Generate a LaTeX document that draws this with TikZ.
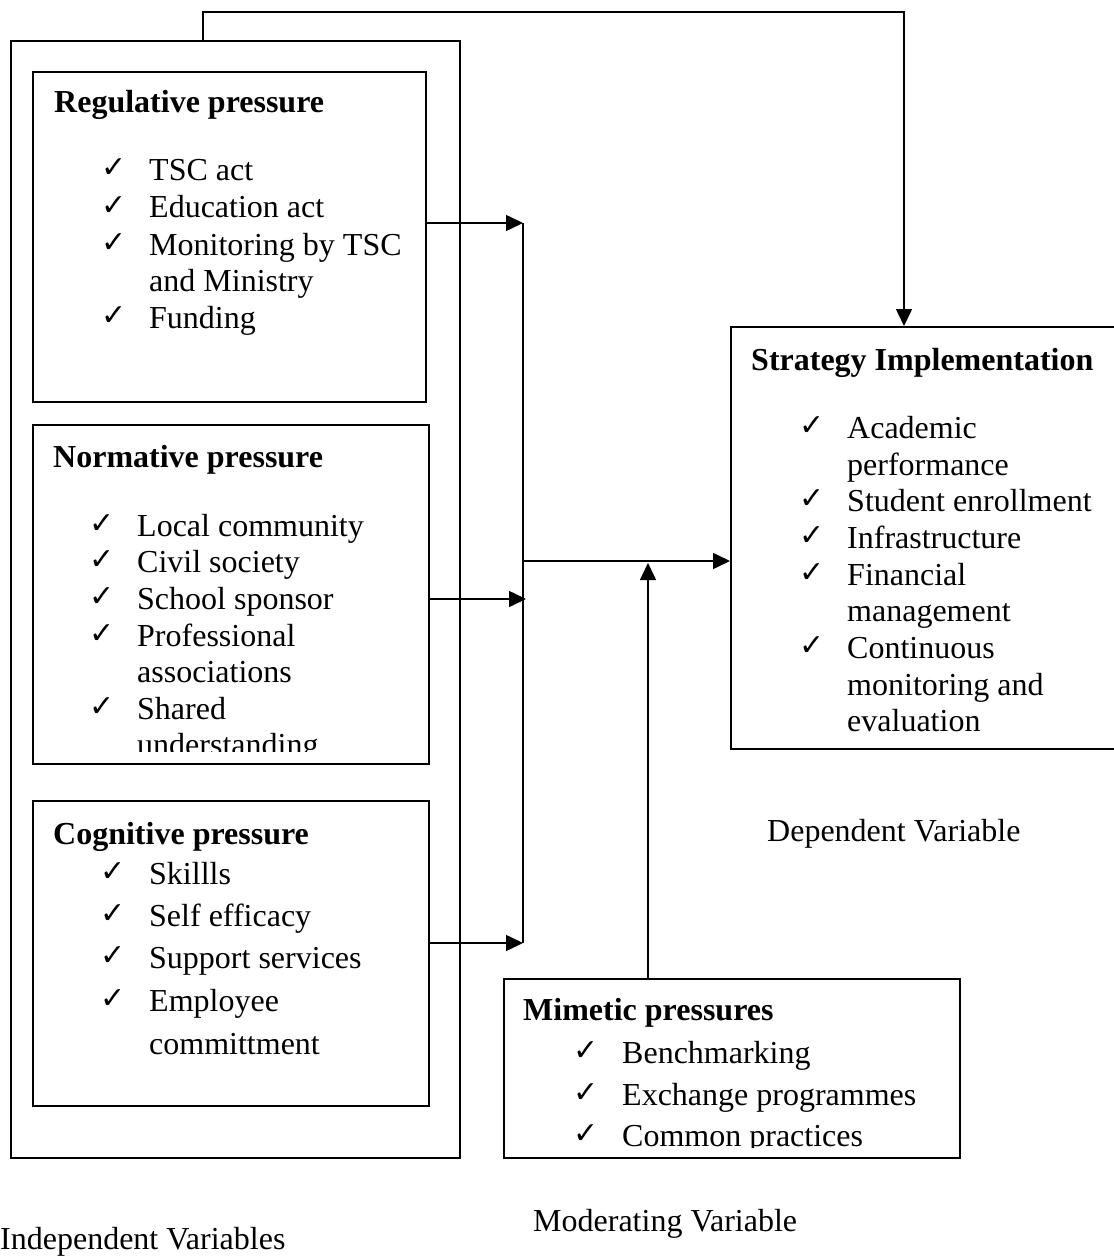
\documentclass[tikz,border=0pt]{standalone}
\usepackage{fontspec}
\setmainfont{Liberation Serif}
\newfontfamily\chkfont{DejaVu Sans}
\usetikzlibrary{arrows.meta}
\tikzset{
  box/.style={draw=black, line width=1.6pt, rectangle, inner sep=0pt, anchor=north west},
  txt/.style={inner sep=0pt, anchor=base west, yshift=-3pt, font=\fontsize{32}{37}\selectfont},
  ttl/.style={txt, font=\fontsize{32}{37}\selectfont\bfseries},
  ck/.style={inner sep=0pt, anchor=base west, yshift=-3pt, font=\chkfont\bfseries\fontsize{30}{32}\selectfont},
  conn/.style={line width=1.6pt},
  arr/.style={line width=1.6pt, -{Triangle[length=17pt,width=16pt]}}
}
\newcommand\itm[5]{%
  \node[ck] (#1c) at (#2,#4-3) {✓};
  \node[txt] (#1) at (#3,#4) {#5};}
\newcommand\cont[4]{\node[txt] (#1) at (#2,#3) {#4};}
\begin{document}
\begin{tikzpicture}[x=1pt,y=-1pt]
\useasboundingbox (0,0) rectangle (1113,1260);
% boxes
\node[box, minimum width=449pt, minimum height=1117pt] (outer) at (10,40) {};
\node[box, minimum width=393pt, minimum height=330pt] (reg) at (32,71) {};
\node[box, minimum width=396pt, minimum height=339pt] (norm) at (32,424) {};
\node[box, minimum width=396pt, minimum height=305pt] (cog) at (32,800) {};
\node[box, minimum width=384pt, minimum height=422pt] (strat) at (730,326) {};
\node[box, minimum width=456pt, minimum height=179pt] (mim) at (503,978) {};
% regulative
\node[ttl] (regT) at (54,110) {Regulative pressure};
\itm{r1}{101}{149}{178}{TSC act}
\itm{r2}{101}{149}{215}{Education act}
\itm{r3}{101}{149}{252}{Monitoring by TSC}
\cont{r3b}{149}{288}{and Ministry}
\itm{r4}{101}{149}{325}{Funding}
% normative
\node[ttl] (normT) at (53,464) {Normative pressure};
\itm{n1}{89}{137}{533}{Local community}
\itm{n2}{89}{137}{569}{Civil society}
\itm{n3}{89}{137}{606}{School sponsor}
\itm{n4}{89}{137}{643}{Professional}
\cont{n4b}{137}{679}{associations}
\itm{n5}{89}{137}{716}{Shared}
\begin{scope}
\clip (100,730) rectangle (420,751);
\cont{n5b}{137}{752}{understanding}
\end{scope}
% cognitive
\node[ttl] (cogT) at (53,841) {Cognitive pressure};
\itm{c1}{100}{149}{881}{Skillls}
\itm{c2}{100}{149}{923}{Self efficacy}
\itm{c3}{100}{149}{965}{Support services}
\itm{c4}{100}{149}{1008}{Employee}
\cont{c4b}{149}{1051}{committment}
% strategy
\node[ttl] (stratT) at (751,367) {Strategy Implementation};
\itm{s1}{799}{847}{435}{Academic}
\cont{s1b}{847}{472}{performance}
\itm{s2}{799}{847}{508}{Student enrollment}
\itm{s3}{799}{847}{545}{Infrastructure}
\itm{s4}{799}{847}{582}{Financial}
\cont{s4b}{847}{618}{management}
\itm{s5}{799}{847}{655}{Continuous}
\cont{s5b}{847}{692}{monitoring and}
\cont{s5c}{847}{728}{evaluation}
% mimetic
\node[ttl] (mimT) at (523,1017) {Mimetic pressures};
\itm{m1}{573}{622}{1060}{Benchmarking}
\itm{m2}{573}{622}{1102}{Exchange programmes}
\begin{scope}
\clip (560,1110) rectangle (950,1147);
\itm{m3}{573}{622}{1143}{Common practices}
\end{scope}
% labels
\node[txt] (dep) at (767,838) {Dependent Variable};
\node[txt] (mod) at (533,1228) {Moderating Variable};
\node[txt] (ind) at (0,1246) {Independent Variables};
% connectors
\coordinate (tl) at (203,12);
\coordinate (tr) at (904,12);
\coordinate (b1) at (523,223);
\coordinate (b2) at (526,599);
\coordinate (b3) at (523,943);
\coordinate (bm) at (523,561);
\coordinate (mx) at (648,563);
\draw[arr] (outer.north -| tl) -- (tl) -- (tr) -- (strat.north -| tr);
\draw[arr] (reg.east |- b1) -- (b1);
\draw[arr] (norm.east |- b2) -- (b2);
\draw[arr] (cog.east |- b3) -- (b3);
\draw[conn] (b1) -- (b3);
\draw[arr] (bm) -- (strat.west |- bm);
\draw[arr] (mim.north -| mx) -- (mx);
\end{tikzpicture}
\end{document}
